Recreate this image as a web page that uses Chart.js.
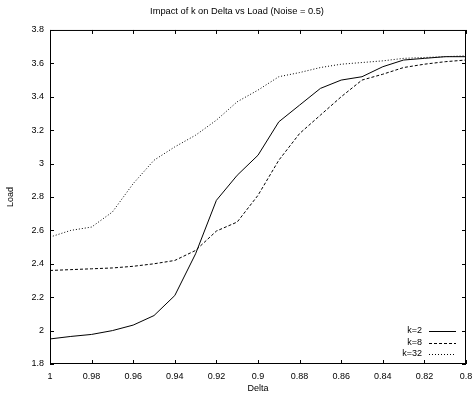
<!DOCTYPE html>
<html>
<head>
<meta charset="utf-8">
<script src="https://cdn.jsdelivr.net/npm/chart.js@4.4.0/dist/chart.umd.min.js"></script>
<style>
  html, body { margin: 0; padding: 0; background: #fff; }
  #wrap { width: 474px; height: 398px; }
</style>
</head>
<body>
<div id="wrap"><canvas id="chart" width="474" height="398"></canvas></div>
<script>
// valeurs
const deltas = [1, 0.99, 0.98, 0.97, 0.96, 0.95, 0.94, 0.93, 0.92, 0.91, 0.9,
  0.89, 0.88, 0.87, 0.86, 0.85, 0.84, 0.83, 0.82, 0.81, 0.8];
const loadK2 = [1.95, 1.965, 1.977, 2.0, 2.033, 2.09, 2.21, 2.46, 2.78, 2.93, 3.05,
  3.25, 3.35, 3.45, 3.5, 3.52, 3.58, 3.62, 3.63, 3.64, 3.64];
const loadK8 = [2.36, 2.365, 2.37, 2.375, 2.385, 2.4, 2.42, 2.48, 2.596, 2.65, 2.81,
  3.02, 3.18, 3.29, 3.4, 3.5, 3.535, 3.575, 3.595, 3.61, 3.62];
const loadK32 = [2.56, 2.6, 2.62, 2.71, 2.88, 3.02, 3.1, 3.17, 3.26, 3.37, 3.44,
  3.52, 3.545, 3.575, 3.595, 3.605, 3.615, 3.63, 3.635, 3.64, 3.645];

const xTicks = [1, 0.98, 0.96, 0.94, 0.92, 0.9, 0.88, 0.86, 0.84, 0.82, 0.8];
const yTicks = [1.8, 2, 2.2, 2.4, 2.6, 2.8, 3, 3.2, 3.4, 3.6, 3.8];

const labels = ["k=2", "k=8", "k=32"];
const dashes = [[], [3, 2], [1, 2]];

const FONT = "Liberation Sans, Arial, sans-serif";

function pts(values) {
  return deltas.map((d, i) => ({ x: d, y: values[i] }));
}

// cadre, petites graduations, titres et légende façon gnuplot
const gnuplotLook = {
  id: "gnuplotLook",
  afterDraw(chart) {
    const ctx = chart.ctx;
    const a = chart.chartArea;
    const xs = chart.scales.x;
    const ys = chart.scales.y;
    ctx.save();
    ctx.strokeStyle = "#000";
    ctx.lineWidth = 1;
    ctx.setLineDash([]);
    ctx.strokeRect(a.left + 0.5, a.top + 0.5, a.right - a.left - 1, a.bottom - a.top - 1);

    ctx.beginPath();
    xs.ticks.forEach((t) => {
      const px = Math.round(xs.getPixelForValue(t.value)) + 0.5;
      ctx.moveTo(px, a.bottom);
      ctx.lineTo(px, a.bottom - 4);
      ctx.moveTo(px, a.top);
      ctx.lineTo(px, a.top + 4);
    });
    ys.ticks.forEach((t) => {
      const py = Math.round(ys.getPixelForValue(t.value)) + 0.5;
      ctx.moveTo(a.left, py);
      ctx.lineTo(a.left + 4, py);
      ctx.moveTo(a.right, py);
      ctx.lineTo(a.right - 4, py);
    });
    ctx.stroke();

    ctx.fillStyle = "#000";
    ctx.font = "9px " + FONT;
    ctx.textBaseline = "middle";
    ctx.textAlign = "center";
    ctx.fillText("Delta", (a.left + a.right) / 2, 389);
    ctx.save();
    ctx.translate(11, (a.top + a.bottom) / 2);
    ctx.rotate(-Math.PI / 2);
    ctx.fillText("Load", 0, 0);
    ctx.restore();

    // légende
    ctx.textAlign = "right";
    labels.forEach((lab, i) => {
      const y = 331 + i * 11.5;
      ctx.fillText(lab, 422, y);
      ctx.setLineDash(dashes[i]);
      ctx.beginPath();
      ctx.moveTo(429, Math.round(y) + 0.5);
      ctx.lineTo(456, Math.round(y) + 0.5);
      ctx.stroke();
    });
    ctx.restore();
  },
};

const ctx = document.getElementById("chart").getContext("2d");
new Chart(ctx, {
  type: "line",
  data: {
    datasets: [loadK2, loadK8, loadK32].map((v, i) => ({
      label: labels[i],
      data: pts(v),
      borderColor: "#000",
      borderWidth: 1,
      borderDash: dashes[i],
      pointRadius: 0,
      tension: 0,
      fill: false,
    })),
  },
  options: {
    responsive: false,
    animation: false,
    layout: { padding: 0 },
    plugins: {
      legend: { display: false },
      tooltip: { enabled: false },
      title: {
        display: true,
        text: "Impact of k on Delta vs Load (Noise = 0.5)",
        color: "#000",
        font: { family: FONT, size: 9.3, weight: "normal", lineHeight: 1.2 },
        padding: { top: 6, bottom: 12.8 },
      },
    },
    scales: {
      x: {
        type: "linear",
        min: 0.8,
        max: 1,
        reverse: true,
        grid: { display: false, drawTicks: false },
        border: { display: false },
        afterBuildTicks: (s) => { s.ticks = xTicks.map((v) => ({ value: v })); },
        afterFit: (s) => {
          s.height = 34;
          s.paddingRight = 8;
          s.paddingLeft = 0;
        },
        ticks: {
          color: "#000",
          padding: 7,
          maxRotation: 0,
          font: { family: FONT, size: 9 },
          callback: (v) => String(+v.toFixed(2)),
        },
      },
      y: {
        min: 1.8,
        max: 3.8,
        grid: { display: false, drawTicks: false },
        border: { display: false },
        afterBuildTicks: (s) => { s.ticks = yTicks.map((v) => ({ value: v })); },
        afterFit: (s) => { s.width = 50; },
        ticks: {
          color: "#000",
          padding: 6,
          font: { family: FONT, size: 9 },
          callback: (v) => String(+v.toFixed(1)),
        },
      },
    },
  },
  plugins: [gnuplotLook],
});
</script>
</body>
</html>
